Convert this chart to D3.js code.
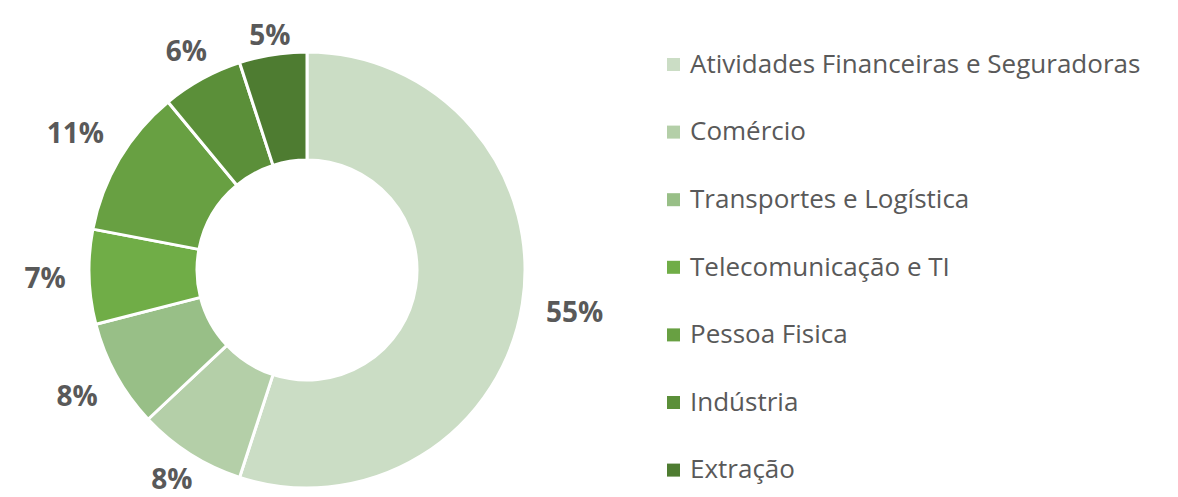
<!DOCTYPE html>
<html>
<head>
<meta charset="utf-8">
<script src="https://cdn.jsdelivr.net/npm/d3@7"></script>
<style>
  body { margin: 0; background: #fff; }
  text { font-family: "Open Sans", "Noto Sans", sans-serif; }
</style>
</head>
<body>
<div class="chart"></div>
<script>
var svgWidth = 1178;
var svgHeight = 497;

// chart data
var categories = ["Atividades Financeiras e Seguradoras", "Comércio", "Transportes e Logística",
  "Telecomunicação e TI", "Pessoa Fisica", "Indústria", "Extração"];
var shares = [55, 8, 8, 7, 11, 6, 5];
var colors = ["#cbddc5", "#b4cfa8", "#98bf87", "#70ad47", "#68a042", "#5b8f39", "#4e7c31"];

var cx = 307, cy = 270;
var outerR = 218, innerR = 110;

var svg = d3.select(".chart")
  .append("svg")
  .attr("width", svgWidth)
  .attr("height", svgHeight);

var data = categories.map(function (c, i) {
  return { name: c, value: shares[i], color: colors[i] };
});

var pie = d3.pie().sort(null).value(d => d.value);
var arc = d3.arc().innerRadius(innerR).outerRadius(outerR);

var chartGroup = svg.append("g")
  .attr("transform", `translate(${cx}, ${cy})`);

var arcs = pie(data);

chartGroup.selectAll("path")
  .data(arcs)
  .enter()
  .append("path")
  .attr("d", arc)
  .attr("fill", d => d.data.color)
  .attr("stroke", "#fff")
  .attr("stroke-width", 3)
  .attr("stroke-linejoin", "round");

// outside-end labels: push the label box just outside the ring
var labelSize = 28;
var labels = chartGroup.selectAll(".pct")
  .data(arcs)
  .enter()
  .append("text")
  .attr("class", "pct")
  .attr("text-anchor", "middle")
  .attr("font-size", labelSize)
  .attr("font-weight", "bold")
  .attr("fill", "#595959")
  .text(d => d.data.value + "%");

var gapH = 23, gapV = 3, capH = labelSize * 0.714;
// keep the label's descent inside the picture
var maxBaseline = svgHeight - cy - labelSize * 0.3;
labels.each(function (d) {
  var w = this.getComputedTextLength();
  var a = (d.startAngle + d.endAngle) / 2;
  var s = Math.sin(a), c = -Math.cos(a);
  var r = outerR + (gapH + w / 2) * Math.abs(s) + (gapV + capH / 2) * Math.abs(c);
  d3.select(this)
    .attr("x", r * s)
    .attr("y", Math.min(r * c + capH / 2, maxBaseline));
});

// legend
var legendSize = 26;
var legend = svg.append("g")
  .attr("transform", "translate(667, 64.5)");

var rows = legend.selectAll("g")
  .data(data)
  .enter()
  .append("g")
  .attr("transform", (d, i) => `translate(0, ${i * 67.6})`);

rows.append("rect")
  .attr("x", 0)
  .attr("y", -6.5)
  .attr("width", 13)
  .attr("height", 13)
  .attr("fill", d => d.color);

rows.append("text")
  .attr("x", 23)
  .attr("y", legendSize * 0.714 / 2 - 1)
  .attr("font-size", legendSize)
  .attr("fill", "#595959")
  .text(d => d.name);
</script>
</body>
</html>
